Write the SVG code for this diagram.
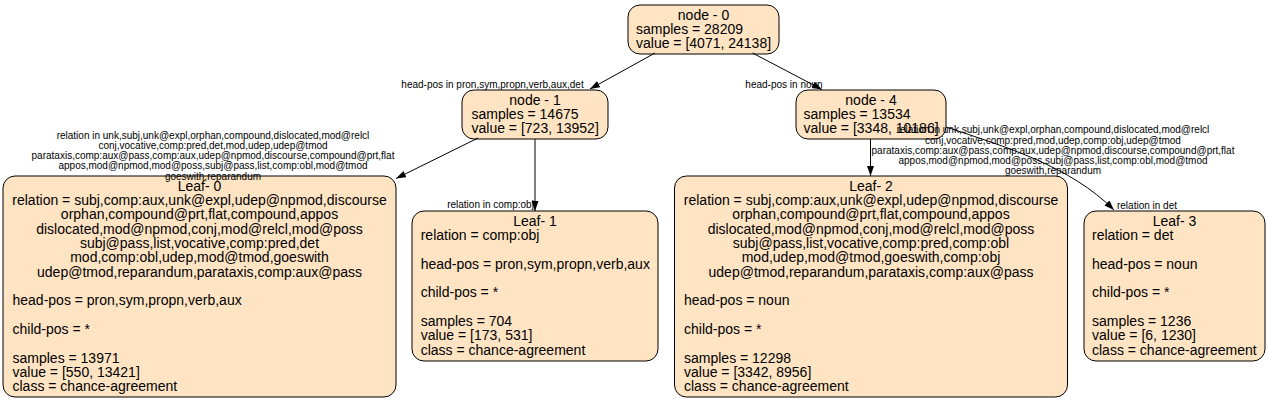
<svg xmlns="http://www.w3.org/2000/svg" width="1268" height="404" viewBox="0 0 1268 404">
<defs>
<style>
.box{fill:#ffe4c4;stroke:#000;stroke-width:1}
text{font-family:"Liberation Sans",Arial,sans-serif;fill:#000}
.n{font-size:14px}
.c{text-anchor:middle}
.e{font-size:10px}
.edge{fill:none;stroke:#000;stroke-width:1}
</style>
<marker id="arr" markerUnits="userSpaceOnUse" markerWidth="10" markerHeight="8" refX="10" refY="3.5" orient="auto">
<path d="M0,0 L10,3.5 L0,7 z" fill="#000"/>
</marker>
</defs>
<rect width="1268" height="404" fill="#fff"/>

<g id="node0">
<rect class="box" x="628" y="5" width="151" height="49" rx="12"/>
<text class="n c" x="703.5" y="19.5">node - 0</text>
<text class="n" x="636" y="33.85">samples = 28209</text>
<text class="n" x="636" y="48.2">value = [4071, 24138]</text>
</g>

<g id="node1">
<rect class="box" x="462" y="90" width="146" height="49" rx="12"/>
<text class="n c" x="535" y="104.5">node - 1</text>
<text class="n" x="471.5" y="118.85">samples = 14675</text>
<text class="n" x="471.5" y="133.2">value = [723, 13952]</text>
</g>

<g id="node4">
<rect class="box" x="796" y="90" width="150" height="49" rx="12"/>
<text class="n c" x="871" y="104.5">node - 4</text>
<text class="n" x="803.5" y="118.85">samples = 13534</text>
<text class="n" x="803.5" y="133.2">value = [3348, 10186]</text>
</g>

<g id="leaf0">
<rect class="box" x="3" y="176" width="393" height="221" rx="12"/>
<text class="n c" x="199.5" y="190.5">Leaf- 0</text>
<text class="n c" x="199.5" y="204.85">relation = subj,comp:aux,unk@expl,udep@npmod,discourse</text>
<text class="n c" x="199.5" y="219.2">orphan,compound@prt,flat,compound,appos</text>
<text class="n c" x="199.5" y="233.55">dislocated,mod@npmod,conj,mod@relcl,mod@poss</text>
<text class="n c" x="199.5" y="247.9">subj@pass,list,vocative,comp:pred,det</text>
<text class="n c" x="199.5" y="262.25">mod,comp:obl,udep,mod@tmod,goeswith</text>
<text class="n c" x="199.5" y="276.6">udep@tmod,reparandum,parataxis,comp:aux@pass</text>
<text class="n" x="12.5" y="305.3">head-pos = pron,sym,propn,verb,aux</text>
<text class="n" x="12.5" y="334">child-pos = *</text>
<text class="n" x="12.5" y="362.7">samples = 13971</text>
<text class="n" x="12.5" y="377.05">value = [550, 13421]</text>
<text class="n" x="12.5" y="391.4">class = chance-agreement</text>
</g>

<g id="leaf1">
<rect class="box" x="412" y="211" width="246" height="150" rx="12"/>
<text class="n c" x="535" y="225.5">Leaf- 1</text>
<text class="n" x="420.7" y="239.85">relation = comp:obj</text>
<text class="n" x="420.7" y="268.55">head-pos = pron,sym,propn,verb,aux</text>
<text class="n" x="420.7" y="297.25">child-pos = *</text>
<text class="n" x="420.7" y="325.95">samples = 704</text>
<text class="n" x="420.7" y="340.3">value = [173, 531]</text>
<text class="n" x="420.7" y="354.65">class = chance-agreement</text>
</g>

<g id="leaf2">
<rect class="box" x="674.5" y="176" width="393" height="221" rx="12"/>
<text class="n c" x="871" y="190.5">Leaf- 2</text>
<text class="n c" x="871" y="204.85">relation = subj,comp:aux,unk@expl,udep@npmod,discourse</text>
<text class="n c" x="871" y="219.2">orphan,compound@prt,flat,compound,appos</text>
<text class="n c" x="871" y="233.55">dislocated,mod@npmod,conj,mod@relcl,mod@poss</text>
<text class="n c" x="871" y="247.9">subj@pass,list,vocative,comp:pred,comp:obl</text>
<text class="n c" x="871" y="262.25">mod,udep,mod@tmod,goeswith,comp:obj</text>
<text class="n c" x="871" y="276.6">udep@tmod,reparandum,parataxis,comp:aux@pass</text>
<text class="n" x="684" y="305.3">head-pos = noun</text>
<text class="n" x="684" y="334">child-pos = *</text>
<text class="n" x="684" y="362.7">samples = 12298</text>
<text class="n" x="684" y="377.05">value = [3342, 8956]</text>
<text class="n" x="684" y="391.4">class = chance-agreement</text>
</g>

<g id="leaf3">
<rect class="box" x="1084" y="211" width="181" height="150" rx="12"/>
<text class="n c" x="1174.5" y="225.5">Leaf- 3</text>
<text class="n" x="1092" y="239.85">relation = det</text>
<text class="n" x="1092" y="268.55">head-pos = noun</text>
<text class="n" x="1092" y="297.25">child-pos = *</text>
<text class="n" x="1092" y="325.95">samples = 1236</text>
<text class="n" x="1092" y="340.3">value = [6, 1230]</text>
<text class="n" x="1092" y="354.65">class = chance-agreement</text>
</g>

<g id="connectors">
<path class="edge" d="M655,53 L590,89" marker-end="url(#arr)"/>
<text class="e c" x="492.5" y="87.5">head-pos in pron,sym,propn,verb,aux,det</text>
<path class="edge" d="M752.5,53 L822,89.5" marker-end="url(#arr)"/>
<text class="e c" x="784" y="87.5">head-pos in noun</text>
<path class="edge" d="M478,138 L396,178.5" marker-end="url(#arr)"/>
<text class="e c" x="213" y="138.5">relation in unk,subj,unk@expl,orphan,compound,dislocated,mod@relcl</text>
<text class="e c" x="213" y="148.75">conj,vocative,comp:pred,det,mod,udep,udep@tmod</text>
<text class="e c" x="213" y="159">parataxis,comp:aux@pass,comp:aux,udep@npmod,discourse,compound@prt,flat</text>
<text class="e c" x="213" y="169.25">appos,mod@npmod,mod@poss,subj@pass,list,comp:obl,mod@tmod</text>
<text class="e c" x="213" y="179.5">goeswith,reparandum</text>
<path class="edge" d="M535,139 L535,211" marker-end="url(#arr)"/>
<text class="e c" x="490.5" y="208">relation in comp:obj</text>
<path class="edge" d="M870.5,139 L870.5,176" marker-end="url(#arr)"/>
<text class="e c" x="1053" y="133.3">relation in unk,subj,unk@expl,orphan,compound,dislocated,mod@relcl</text>
<text class="e c" x="1053" y="143.5">conj,vocative,comp:pred,mod,udep,comp:obj,udep@tmod</text>
<text class="e c" x="1053" y="153.7">parataxis,comp:aux@pass,comp:aux,udep@npmod,discourse,compound@prt,flat</text>
<text class="e c" x="1053" y="163.9">appos,mod@npmod,mod@poss,subj@pass,list,comp:obl,mod@tmod</text>
<text class="e c" x="1053" y="174.1">goeswith,reparandum</text>
<path class="edge" d="M946,127 C1006,147 1070,166 1114,210" marker-end="url(#arr)"/>
<text class="e c" x="1147" y="208.5">relation in det</text>
</g>
</svg>
